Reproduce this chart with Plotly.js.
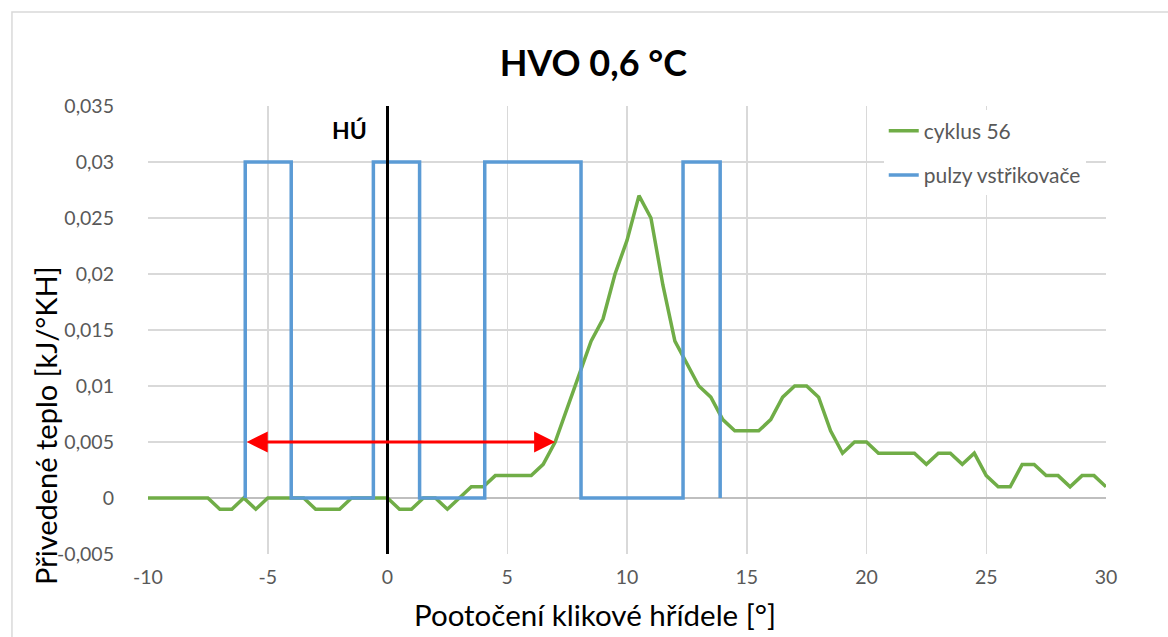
<!DOCTYPE html>
<html>
<head>
<meta charset="utf-8">
<script src="https://cdn.plot.ly/plotly-3.0.1.min.js"></script>
<style>
html,body{margin:0;padding:0;background:#fff;}
#chart{width:1168px;height:637px;}
</style>
</head>
<body>
<div id="chart"></div>
<script>
// Green series: cyklus 56
const angle = [-10,-9.5,-9,-8.5,-8,-7.5,-7,-6.5,-6,-5.5,-5,-4.5,-4,-3.5,-3,-2.5,-2,-1.5,-1,-0.5,
  0,0.5,1,1.5,2,2.5,3,3.5,4,4.5,5,5.5,6,6.5,7,7.5,8,8.5,9,9.5,
  10,10.5,11,11.5,12,12.5,13,13.5,14,14.5,15,15.5,16,16.5,17,17.5,18,18.5,19,19.5,
  20,20.5,21,21.5,22,22.5,23,23.5,24,24.5,25,25.5,26,26.5,27,27.5,28,28.5,29,29.5,30];
const heat = [0,0,0,0,0,0,-0.001,-0.001,0,-0.001,0,0,0,0,-0.001,-0.001,-0.001,0,0,0,
  0,-0.001,-0.001,0,0,-0.001,0,0.001,0.001,0.002,0.002,0.002,0.002,0.003,0.005,0.008,0.011,0.014,0.016,0.020,
  0.023,0.027,0.025,0.019,0.014,0.012,0.010,0.009,0.007,0.006,0.006,0.006,0.007,0.009,0.010,0.010,0.009,0.006,0.004,0.005,
  0.005,0.004,0.004,0.004,0.004,0.003,0.004,0.004,0.003,0.004,0.002,0.001,0.001,0.003,0.003,0.002,0.002,0.001,0.002,0.002,0.001];

// Blue series: pulzy vstřikovače (rectangular pulses)
const pulseAngle = [-5.94,-5.94,-4.02,-4.02,-0.59,-0.59,1.34,1.34,4.06,4.06,8.08,8.08,12.34,12.34,13.89,13.89];
const pulseLevel = [0,0.03,0.03,0,0,0.03,0.03,0,0,0.03,0.03,0,0,0.03,0.03,0];

// Tick labels
const xTickVals = [-10,-5,0,5,10,15,20,25,30];
const xTickText = ["-10","-5","0","5","10","15","20","25","30"];
const yTickVals = [-0.005,0,0.005,0.01,0.015,0.02,0.025,0.03,0.035];
const yTickText = ["-0,005","0","0,005","0,01","0,015","0,02","0,025","0,03","0,035"];

// Annotation values
const tdcAngle = 0;           // HÚ line
const arrowStart = -5.94;     // red arrow from
const arrowEnd = 7.0;         // red arrow to
const arrowLevel = 0.005;

const font = "Lato, 'Open Sans', sans-serif";
const grey = "#595959";

const traces = [
  {x: angle, y: heat, type: "scatter", mode: "lines", name: "cyklus 56",
   legendgroup: "a", line: {color: "#70ad47", width: 3.5}},
  {x: pulseAngle, y: pulseLevel, type: "scatter", mode: "lines", name: "pulzy vstřikovače",
   legendgroup: "b", line: {color: "#5b9bd5", width: 3.5}}
];

const layout = {
  width: 1168, height: 637,
  margin: {l: 148, r: 62, t: 106, b: 83},
  paper_bgcolor: "#fff", plot_bgcolor: "#fff",
  showlegend: true,
  legend: {x: 0.768, y: 0.99, xanchor: "left", yanchor: "top", bgcolor: "#fff",
    font: {family: font, size: 21, color: grey}, traceorder: "grouped", tracegroupgap: 14},
  title: {text: "<b>HVO 0,6 °C</b>", x: 0.508, xanchor: "center", y: 0.9, yanchor: "middle",
    font: {family: font, size: 36, color: "#000"}},
  xaxis: {range: [-10, 30], tickvals: xTickVals, ticktext: xTickText, showgrid: true,
    gridcolor: "#d9d9d9", gridwidth: 1.5, zeroline: false, showline: false, ticks: "",
    ticklabelstandoff: 9, tickfont: {family: font, size: 19.5, color: grey}},
  yaxis: {range: [-0.005, 0.035], tickvals: yTickVals, ticktext: yTickText, showgrid: true,
    gridcolor: "#d9d9d9", gridwidth: 1.5, zeroline: true, zerolinecolor: "#bfbfbf", zerolinewidth: 1.5,
    showline: false, ticks: "", ticklabelstandoff: 33, tickfont: {family: font, size: 19.5, color: grey}},
  shapes: [
    {type: "line", xref: "x", yref: "y", x0: tdcAngle, x1: tdcAngle, y0: -0.005, y1: 0.035,
     line: {color: "#000", width: 3}},
    {type: "rect", xref: "paper", yref: "paper", x0: -0.142, x1: 1.2, y0: -0.4, y1: 1.21,
     line: {color: "#d9d9d9", width: 1.5}, layer: "below"}
  ],
  annotations: [
    {x: -1.6, y: 0.0329, xref: "x", yref: "y", text: "<b>HÚ</b>", showarrow: false,
     font: {family: font, size: 23, color: "#000"}},
    {x: arrowEnd, y: arrowLevel, ax: arrowStart, ay: arrowLevel, xref: "x", yref: "y",
     axref: "x", ayref: "y", text: "", showarrow: true, arrowside: "end+start",
     arrowhead: 2, arrowsize: 1.4, arrowwidth: 3, arrowcolor: "#ff0000"},
    {x: (595 - 148) / 958, y: (554 - 614) / 448, xref: "paper", yref: "paper",
     xanchor: "center", yanchor: "middle",
     text: "Pootočení klikové hřídele [°]", showarrow: false,
     font: {family: font, size: 29.5, color: "#000"}},
    {x: (45 - 148) / 958, y: (554 - 426) / 448, xref: "paper", yref: "paper",
     xanchor: "center", yanchor: "middle",
     text: "Přivedené teplo [kJ/°KH]", showarrow: false, textangle: -90,
     font: {family: font, size: 29, color: "#000"}}
  ]
};

Plotly.newPlot("chart", traces, layout, {displayModeBar: false, staticPlot: true});
</script>
</body>
</html>
